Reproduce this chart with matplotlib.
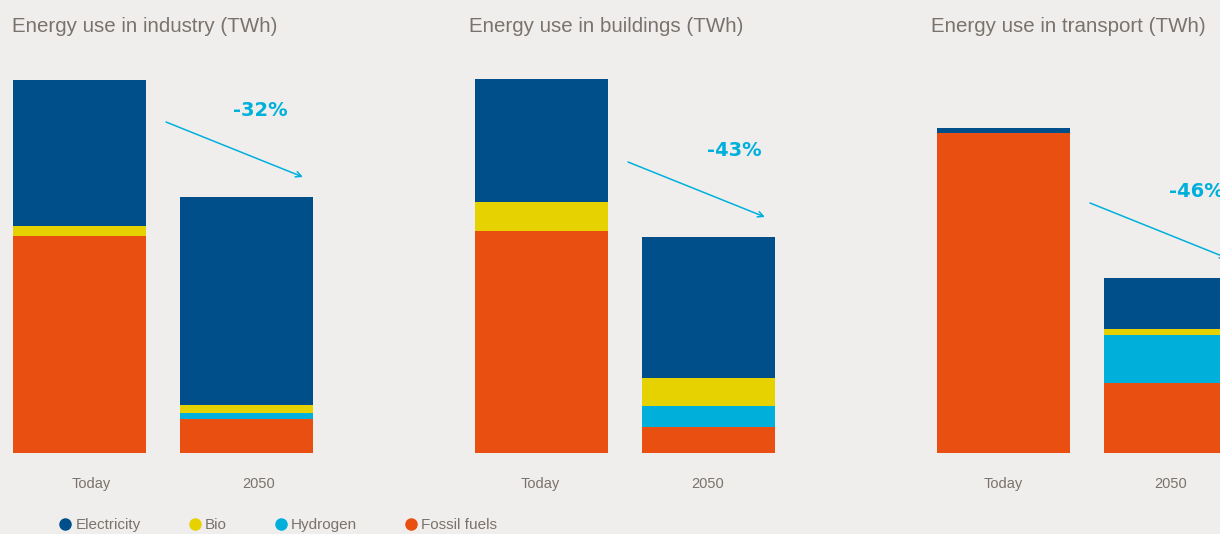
import matplotlib.pyplot as plt
from matplotlib.lines import Line2D
import matplotlib.transforms as mtransforms

# stacked values per panel: [Today, 2050] (TWh)
panels = ['industry', 'buildings', 'transport']
periods = ['Today', '2050']
fossil = [[217, 34], [222, 26], [320, 70]]
hydrogen = [[0, 6], [0, 21], [0, 48]]
bio = [[10, 8], [29, 28], [0, 6]]
electricity = [[146, 208], [123, 141], [5, 51]]
changes = ['-32%', '-43%', '-46%']

series = [('Fossil fuels', fossil, '#e84f10'),
          ('Hydrogen', hydrogen, '#00b0da'),
          ('Bio', bio, '#e5d200'),
          ('Electricity', electricity, '#004f8a')]

BG = '#f0eeec'
GREY = '#7a726c'
CYAN = '#00b0dc'

W, H = 1220, 534
fig = plt.figure(figsize=(W / 100, H / 100), dpi=100, facecolor=BG)
plt.rcParams['font.family'] = ['Liberation Sans', 'DejaVu Sans']

unit = 167.0          # px between bar centres
left_off = 79.5       # px from axes left to first bar centre
ax_w = 440
base_px = 453
top_px = 60
label_x = [1.081, 1.153, 1.153]
tick_shift = [12, -1, 0]
title_px = [12, 469, 931]

for i, name in enumerate(panels):
    x0 = 462 * i
    ax = fig.add_axes([x0 / W, (H - base_px) / H, ax_w / W, (base_px - top_px) / H])
    ax.set_facecolor(BG)
    ax.set_xlim(-left_off / unit, (ax_w - left_off) / unit)
    ax.set_ylim(0, base_px - top_px)
    bottom = [0, 0]
    for lab, vals, col in series:
        ax.bar([0, 1], vals[i], 0.796, bottom=bottom, color=col, linewidth=0)
        bottom = [b + v for b, v in zip(bottom, vals[i])]
    for s in ax.spines.values():
        s.set_visible(False)
    ax.set_yticks([])
    ax.set_xticks([0, 1], periods)
    ax.tick_params(axis='x', length=0, pad=17, labelsize=10.5, labelcolor=GREY)
    off = mtransforms.ScaledTranslation(tick_shift[i] / 100, 0, fig.dpi_scale_trans)
    for t in ax.get_xticklabels():
        t.set_transform(t.get_transform() + off)

    # change arrow
    y_end = bottom[1] + 20
    ax.annotate('', xy=(1.338, y_end), xytext=(0.518, y_end + 55),
                arrowprops=dict(arrowstyle='->', color=CYAN, lw=1.1,
                                shrinkA=0, shrinkB=0))
    ax.text(label_x[i], y_end + 55 + 11, changes[i], color=CYAN,
            fontsize=14, fontweight='bold', family='DejaVu Sans',
            ha='center', va='center')

    fig.text(title_px[i] / W, 1 - 26.5 / H,
             f'Energy use in {name} (TWh)', color=GREY, fontsize=14.8,
             ha='left', va='center')

handles = [Line2D([], [], marker='o', ls='', color=c, markersize=8)
           for _, _, c in series[::-1]]
labels = [l for l, _, _ in series[::-1]]
fig.legend(handles, labels, loc='center left', bbox_to_anchor=(44 / W, 1 - 525 / H),
           ncol=4, frameon=False, handletextpad=0.15, columnspacing=3.05,
           handlelength=1.0, labelcolor=GREY, fontsize=11)

fig.savefig('out.png', dpi=100, facecolor=BG)
